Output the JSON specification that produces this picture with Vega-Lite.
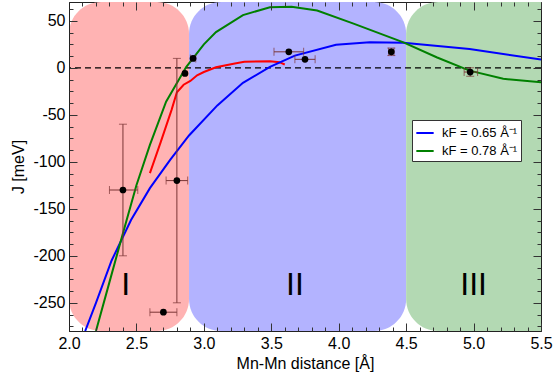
{
  "$schema": "https://vega.github.io/schema/vega-lite/v6.json",
  "width": 472,
  "height": 329,
  "autosize": {"type": "none"},
  "padding": {"left": 69, "top": 2, "right": 16, "bottom": 50},
  "background": "white",
  "config": {
    "view": {"stroke": "#222", "strokeWidth": 1},
    "axis": {
      "labelFont": "Liberation Sans",
      "titleFont": "Liberation Sans",
      "labelFontSize": 16,
      "titleFontSize": 16,
      "titleFontWeight": "normal",
      "labelColor": "black",
      "titleColor": "black",
      "tickColor": "#333",
      "domainColor": "#222",
      "grid": false
    },
    "legend": {"labelFont": "Liberation Sans", "labelFontSize": 13, "labelColor": "black"}
  },
  "datasets": {
    "regions": [
      {"x0": 2.0, "x1": 2.89, "region": "I"},
      {"x0": 2.89, "x1": 4.5, "region": "II"},
      {"x0": 4.5, "x1": 5.8, "region": "III"}
    ],
    "labels": [
      {"x": 2.42, "y": -231, "t": "I"},
      {"x": 3.675, "y": -231, "t": "II"},
      {"x": 5.0, "y": -231, "t": "III"}
    ],
    "curves": [
      {"d": 2.12, "J": -280, "s": "kF = 0.65 Å⁻¹"},
      {"d": 2.2, "J": -250, "s": "kF = 0.65 Å⁻¹"},
      {"d": 2.316, "J": -205, "s": "kF = 0.65 Å⁻¹"},
      {"d": 2.46, "J": -162, "s": "kF = 0.65 Å⁻¹"},
      {"d": 2.6, "J": -128, "s": "kF = 0.65 Å⁻¹"},
      {"d": 2.75, "J": -98, "s": "kF = 0.65 Å⁻¹"},
      {"d": 2.89, "J": -72, "s": "kF = 0.65 Å⁻¹"},
      {"d": 3.1, "J": -40, "s": "kF = 0.65 Å⁻¹"},
      {"d": 3.29, "J": -16, "s": "kF = 0.65 Å⁻¹"},
      {"d": 3.49, "J": 1, "s": "kF = 0.65 Å⁻¹"},
      {"d": 3.675, "J": 13, "s": "kF = 0.65 Å⁻¹"},
      {"d": 3.98, "J": 24.5, "s": "kF = 0.65 Å⁻¹"},
      {"d": 4.23, "J": 27.2, "s": "kF = 0.65 Å⁻¹"},
      {"d": 4.48, "J": 26.6, "s": "kF = 0.65 Å⁻¹"},
      {"d": 4.97, "J": 20, "s": "kF = 0.65 Å⁻¹"},
      {"d": 5.5, "J": 8.8, "s": "kF = 0.65 Å⁻¹"},
      {"d": 2.2, "J": -280, "s": "kF = 0.78 Å⁻¹"},
      {"d": 2.3, "J": -228, "s": "kF = 0.78 Å⁻¹"},
      {"d": 2.4, "J": -176, "s": "kF = 0.78 Å⁻¹"},
      {"d": 2.5, "J": -125, "s": "kF = 0.78 Å⁻¹"},
      {"d": 2.6, "J": -82, "s": "kF = 0.78 Å⁻¹"},
      {"d": 2.72, "J": -36, "s": "kF = 0.78 Å⁻¹"},
      {"d": 2.87, "J": 1, "s": "kF = 0.78 Å⁻¹"},
      {"d": 3.0, "J": 25, "s": "kF = 0.78 Å⁻¹"},
      {"d": 3.09, "J": 38, "s": "kF = 0.78 Å⁻¹"},
      {"d": 3.29, "J": 56, "s": "kF = 0.78 Å⁻¹"},
      {"d": 3.49, "J": 64.5, "s": "kF = 0.78 Å⁻¹"},
      {"d": 3.65, "J": 65, "s": "kF = 0.78 Å⁻¹"},
      {"d": 3.84, "J": 61, "s": "kF = 0.78 Å⁻¹"},
      {"d": 4.11, "J": 47, "s": "kF = 0.78 Å⁻¹"},
      {"d": 4.48, "J": 27, "s": "kF = 0.78 Å⁻¹"},
      {"d": 4.73, "J": 11, "s": "kF = 0.78 Å⁻¹"},
      {"d": 4.97, "J": -3, "s": "kF = 0.78 Å⁻¹"},
      {"d": 5.22, "J": -11.7, "s": "kF = 0.78 Å⁻¹"},
      {"d": 5.5, "J": -15.3, "s": "kF = 0.78 Å⁻¹"}
    ],
    "red": [
      {"d": 2.6, "J": -112},
      {"d": 2.68, "J": -79},
      {"d": 2.76, "J": -45},
      {"d": 2.8, "J": -26},
      {"d": 2.85, "J": -18},
      {"d": 2.9, "J": -14},
      {"d": 2.95, "J": -8},
      {"d": 3.0, "J": -4.5},
      {"d": 3.09, "J": 0.5},
      {"d": 3.22, "J": 4.3},
      {"d": 3.3, "J": 6.5},
      {"d": 3.49, "J": 7},
      {"d": 3.56, "J": 6},
      {"d": 3.6, "J": 3.5}
    ],
    "points": [
      {"x": 2.4, "y": -130, "xlo": 2.3, "xhi": 2.51, "ylo": -200, "yhi": -60},
      {"x": 2.8, "y": -120, "xlo": 2.72, "xhi": 2.88, "ylo": -250, "yhi": 10},
      {"x": 2.7, "y": -260, "xlo": 2.6, "xhi": 2.8, "ylo": null, "yhi": null},
      {"x": 2.86, "y": -6, "xlo": null, "xhi": null, "ylo": null, "yhi": null},
      {"x": 2.92, "y": 10, "xlo": 2.9, "xhi": 2.94, "ylo": null, "yhi": null},
      {"x": 3.63, "y": 17, "xlo": 3.52, "xhi": 3.74, "ylo": null, "yhi": null},
      {"x": 3.75, "y": 9, "xlo": 3.675, "xhi": 3.825, "ylo": null, "yhi": null},
      {"x": 4.39, "y": 17, "xlo": 4.37, "xhi": 4.41, "ylo": 13, "yhi": 21},
      {"x": 4.975, "y": -4.5, "xlo": 4.93, "xhi": 5.03, "ylo": -9, "yhi": 0}
    ]
  },
  "resolve": {"axis": {"x": "independent", "y": "independent"}},
  "layer": [
    {
      "data": {"name": "regions"},
      "mark": {"type": "rect", "clip": true, "cornerRadius": 32},
      "encoding": {
        "x": {"field": "x0", "type": "quantitative",
              "scale": {"domain": [2.0, 5.5], "nice": false, "zero": false},
              "axis": {
                "orient": "bottom",
                "zindex": 1,
                "title": "Mn-Mn distance [Å]",
                "values": [2.0, 2.5, 3.0, 3.5, 4.0, 4.5, 5.0, 5.5],
                "format": ".1f",
                "tickSize": -8,
                "labelPadding": 12,
                "labelFlush": false,
                "titlePadding": 4
              }},
        "x2": {"field": "x1"},
        "y": {"datum": -280, "type": "quantitative",
              "scale": {"domain": [-280, 70], "nice": false, "zero": false},
              "axis": {
                "orient": "left",
                "zindex": 1,
                "title": "J [meV]",
                "values": [-250, -200, -150, -100, -50, 0, 50],
                "labelExpr": "'' + datum.value",
                "tickSize": -8,
                "labelPadding": 12,
                "labelFlush": false,
                "titlePadding": 6
              }},
        "y2": {"datum": 70},
        "fill": {"field": "region", "type": "nominal", "legend": null,
                  "scale": {"domain": ["I", "II", "III"], "range": ["#ffb3b3", "#b3b3ff", "#b3d9b3"]}}
      }
    },
    {
      "data": {"values": [{"z": 0}]},
      "mark": {"type": "rule", "color": "black", "strokeDash": [6, 4], "strokeWidth": 1.3},
      "encoding": {"y": {"field": "z", "type": "quantitative", "axis": null}}
    },
    {
      "data": {"name": "labels"},
      "mark": {"type": "text", "font": "Liberation Sans", "fontSize": 32, "color": "black"},
      "encoding": {
        "x": {"field": "x", "type": "quantitative", "axis": null},
        "y": {"field": "y", "type": "quantitative", "axis": null},
        "text": {"field": "t"}
      }
    },
    {
      "data": {"name": "red"},
      "mark": {"type": "line", "color": "#ff0000", "strokeWidth": 2, "clip": true},
      "encoding": {
        "x": {"field": "d", "type": "quantitative",
              "axis": {"orient": "bottom", "zindex": 1, "title": null, "labels": false, "domain": false, "tickSize": -4,
                "values": [2.1,2.2,2.3,2.4,2.6,2.7,2.8,2.9,3.1,3.2,3.3,3.4,3.6,3.7,3.8,3.9,4.1,4.2,4.3,4.4,4.6,4.7,4.8,4.9,5.1,5.2,5.3,5.4]}},
        "y": {"field": "J", "type": "quantitative",
              "axis": {"orient": "left", "zindex": 1, "title": null, "labels": false, "domain": false, "tickSize": -4,
                "values": [-275,-262.5,-237.5,-225,-212.5,-187.5,-175,-162.5,-137.5,-125,-112.5,-87.5,-75,-62.5,-37.5,-25,-12.5,12.5,25,37.5,62.5]}}
      }
    },
    {
      "data": {"name": "curves"},
      "mark": {"type": "line", "strokeWidth": 2, "clip": true},
      "encoding": {
        "x": {"field": "d", "type": "quantitative",
              "axis": {"orient": "top", "zindex": 1, "title": null, "labels": false, "domain": false, "tickSize": -8,
                "values": [2.0, 2.5, 3.0, 3.5, 4.0, 4.5, 5.0, 5.5]}},
        "y": {"field": "J", "type": "quantitative",
              "axis": {"orient": "right", "zindex": 1, "title": null, "labels": false, "domain": false, "tickSize": -8,
                "values": [-250, -200, -150, -100, -50, 0, 50]}},
        "color": {"field": "s", "type": "nominal",
                  "scale": {"domain": ["kF = 0.65 Å⁻¹", "kF = 0.78 Å⁻¹"], "range": ["#0000ff", "#008000"]},
                  "legend": {"title": null, "orient": "none", "legendX": 343, "legendY": 118,
                             "symbolType": "stroke", "symbolStrokeWidth": 2, "symbolSize": 300,
                             "strokeColor": "#333", "fillColor": "white", "padding": 3, "rowPadding": 1,
                             "labelOffset": 7}}
      }
    },
    {
      "data": {"name": "points"},
      "transform": [{"filter": "datum.xlo != null"}],
      "mark": {"type": "errorbar", "ticks": {"size": 8}, "color": "#7a3535", "thickness": 1},
      "encoding": {
        "x": {"field": "xlo", "type": "quantitative", "axis": null},
        "x2": {"field": "xhi"},
        "y": {"field": "y", "type": "quantitative", "axis": null}
      }
    },
    {
      "data": {"name": "points"},
      "transform": [{"filter": "datum.ylo != null"}],
      "mark": {"type": "errorbar", "ticks": {"size": 8}, "color": "#7a3535", "thickness": 1},
      "encoding": {
        "y": {"field": "ylo", "type": "quantitative", "axis": null},
        "y2": {"field": "yhi"},
        "x": {"field": "x", "type": "quantitative", "axis": null}
      }
    },
    {
      "data": {"name": "points"},
      "mark": {"type": "circle", "color": "black", "opacity": 1, "size": 45},
      "encoding": {
        "x": {"field": "x", "type": "quantitative",
              "axis": {"orient": "top", "zindex": 1, "title": null, "labels": false, "domain": false, "tickSize": -4,
                "values": [2.1,2.2,2.3,2.4,2.6,2.7,2.8,2.9,3.1,3.2,3.3,3.4,3.6,3.7,3.8,3.9,4.1,4.2,4.3,4.4,4.6,4.7,4.8,4.9,5.1,5.2,5.3,5.4]}},
        "y": {"field": "y", "type": "quantitative",
              "axis": {"orient": "right", "zindex": 1, "title": null, "labels": false, "domain": false, "tickSize": -4,
                "values": [-275,-262.5,-237.5,-225,-212.5,-187.5,-175,-162.5,-137.5,-125,-112.5,-87.5,-75,-62.5,-37.5,-25,-12.5,12.5,25,37.5,62.5]}}
      }
    }
  ]
}
